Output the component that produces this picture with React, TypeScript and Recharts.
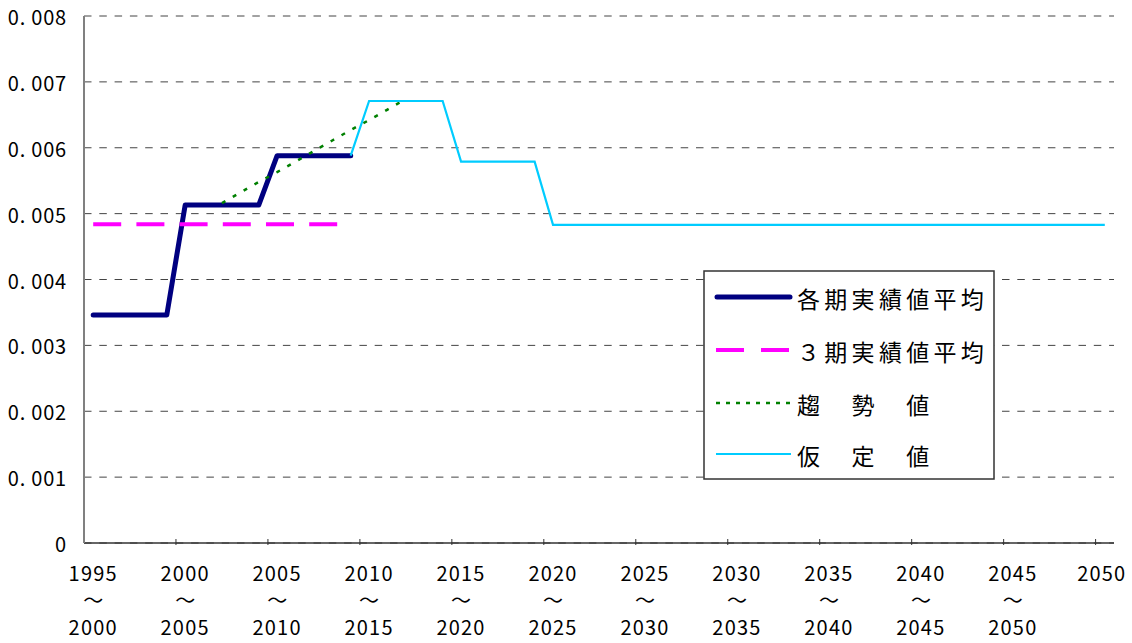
import React from "react";
import { LineChart, Line, XAxis, YAxis, CartesianGrid, Legend } from "recharts";

const years = [
  1995, 1996, 1997, 1998, 1999, 2000, 2001, 2002, 2003, 2004,
  2005, 2006, 2007, 2008, 2009, 2010, 2011, 2012, 2013, 2014,
  2015, 2016, 2017, 2018, 2019, 2020, 2021, 2022, 2023, 2024,
  2025, 2026, 2027, 2028, 2029, 2030, 2031, 2032, 2033, 2034,
  2035, 2036, 2037, 2038, 2039, 2040, 2041, 2042, 2043, 2044,
  2045, 2046, 2047, 2048, 2049, 2050,
];

// 各期実績値平均 (1995-2009)
const periodAvgStart = 1995;
const periodAvg = [
  0.00346, 0.00346, 0.00346, 0.00346, 0.00346,
  0.00513, 0.00513, 0.00513, 0.00513, 0.00513,
  0.00588, 0.00588, 0.00588, 0.00588, 0.00588,
];

// ３期実績値平均 (1995-2009)
const threePeriodAvgStart = 1995;
const threePeriodAvg = [
  0.00484, 0.00484, 0.00484, 0.00484, 0.00484,
  0.00484, 0.00484, 0.00484, 0.00484, 0.00484,
  0.00484, 0.00484, 0.00484, 0.00484, 0.00484,
];

// 趨勢値 (2002-2012)
const trendStart = 2002;
const trend = [
  0.00516, 0.00532, 0.00548, 0.00563, 0.00579, 0.00595,
  0.00611, 0.00627, 0.00642, 0.00658, 0.00674,
];

// 仮定値 (2009-2050)
const assumedStart = 2009;
const assumed = [
  0.00588,
  0.00671, 0.00671, 0.00671, 0.00671, 0.00671,
  0.00579, 0.00579, 0.00579, 0.00579, 0.00579,
  0.00483, 0.00483, 0.00483, 0.00483, 0.00483,
  0.00483, 0.00483, 0.00483, 0.00483, 0.00483,
  0.00483, 0.00483, 0.00483, 0.00483, 0.00483,
  0.00483, 0.00483, 0.00483, 0.00483, 0.00483,
  0.00483, 0.00483, 0.00483, 0.00483, 0.00483,
  0.00483, 0.00483, 0.00483, 0.00483, 0.00483,
  0.00483,
];

const xTickYears = [1995, 2000, 2005, 2010, 2015, 2020, 2025, 2030, 2035, 2040, 2045, 2050];
const xTickLabels = [
  "1995～2000", "2000～2005", "2005～2010", "2010～2015", "2015～2020", "2020～2025",
  "2025～2030", "2030～2035", "2035～2040", "2040～2045", "2045～2050", "2050",
];

const yTicks = [0, 0.001, 0.002, 0.003, 0.004, 0.005, 0.006, 0.007, 0.008];
const yTickLabels = ["0", "0. 001", "0. 002", "0. 003", "0. 004", "0. 005", "0. 006", "0. 007", "0. 008"];

const seriesNames = ["各期実績値平均", "３期実績値平均", "趨　勢　値", "仮　定　値"];

const pick = (arr: number[], start: number, year: number) => {
  const i = year - start;
  return i >= 0 && i < arr.length ? arr[i] : null;
};

const data = years.map((year) => ({
  year,
  periodAvg: pick(periodAvg, periodAvgStart, year),
  threePeriodAvg: pick(threePeriodAvg, threePeriodAvgStart, year),
  trend: pick(trend, trendStart, year),
  assumed: pick(assumed, assumedStart, year),
}));

const FONT = "'Noto Sans CJK JP', 'Noto Sans', sans-serif";

const W = 1132;
const H = 643;
const MARGIN = { top: 16, right: 18, left: 0, bottom: 0 };
const Y_AXIS_W = 84;
const X_AXIS_H = 100;
const PLOT_W = W - MARGIN.left - MARGIN.right - Y_AXIS_W;
const HALF_BAND = PLOT_W / years.length / 2;

const XTick = (props: any) => {
  const { x, y, payload, index } = props;
  const k = xTickYears.indexOf(payload.value);
  const label = k >= 0 ? xTickLabels[k] : String(payload.value);
  const parts = label.split("～");
  const isLast = parts.length === 1;
  const tx = isLast ? x - 3 : x;
  return (
    <g>
      {index > 0 && (
        <line x1={x - HALF_BAND} x2={x - HALF_BAND} y1={y - 6} y2={y} stroke="#333" strokeWidth={1} />
      )}
      <text x={tx} y={y + 27} textAnchor="middle" dominantBaseline="central" fontSize={20}
        fontFamily={FONT} fill="#000" letterSpacing={1.2}>{parts[0]}</text>
      {parts.length > 1 && (
        <>
          <text x={x} y={y + 54} textAnchor="middle" dominantBaseline="central" fontSize={20}
            fontFamily={FONT} fill="#000">～</text>
          <text x={x} y={y + 81} textAnchor="middle" dominantBaseline="central" fontSize={20}
            fontFamily={FONT} fill="#000" letterSpacing={1.2}>{parts[1]}</text>
        </>
      )}
    </g>
  );
};

const YTick = (props: any) => {
  const { y, payload } = props;
  const k = yTicks.findIndex((t) => Math.abs(t - payload.value) < 1e-9);
  const label = k >= 0 ? yTickLabels[k] : String(payload.value);
  return (
    <text x={67} y={y + 0.5} textAnchor="end" dominantBaseline="central" fontSize={20}
      fontFamily={FONT} fill="#000" letterSpacing={0.8}>{label}</text>
  );
};

const legendStyles = [
  { color: "#000080", width: 5, dash: undefined as string | undefined, cap: "round" as const },
  { color: "#FF00FF", width: 4, dash: "28 17", cap: "butt" as const },
  { color: "#008000", width: 2.5, dash: "4 6", cap: "butt" as const },
  { color: "#00CCFF", width: 2.2, dash: undefined as string | undefined, cap: "butt" as const },
];
const legendRowY = [27, 80, 133, 184];

const LegendBox = () => (
  <svg width={292} height={210} style={{ display: "block" }}>
    <rect x={1} y={1} width={290} height={208} fill="#fff" stroke="#333" strokeWidth={1.5} />
    {seriesNames.map((name, i) => (
      <g key={name}>
        <line x1={i === 0 ? 14 : 13} x2={i === 0 ? 87 : 88} y1={legendRowY[i]} y2={legendRowY[i]}
          stroke={legendStyles[i].color} strokeWidth={legendStyles[i].width}
          strokeDasharray={legendStyles[i].dash} strokeLinecap={legendStyles[i].cap} />
        <text x={94} y={legendRowY[i] + 1} dominantBaseline="central" fontSize={23}
          fontFamily={FONT} fill="#000" letterSpacing={4.3}>{name}</text>
      </g>
    ))}
  </svg>
);

export default function App() {
  return (
    <div style={{ position: "absolute", left: 0, top: 0, width: W, height: H, background: "#fff", fontFamily: FONT }}>
      <LineChart width={W} height={H} data={data} margin={MARGIN}>
        <CartesianGrid horizontal vertical={false} stroke="#444" strokeDasharray="7.5 7.8" strokeWidth={1} />
        <XAxis dataKey="year" type="category" interval={4} tickLine={false} tickSize={0} height={X_AXIS_H}
          padding={{ left: HALF_BAND, right: HALF_BAND }}
          axisLine={{ stroke: "#333", strokeWidth: 1.5 }} tick={(p: any) => <XTick {...p} />} />
        <YAxis type="number" domain={[0, 0.008]} ticks={yTicks} width={Y_AXIS_W} tickLine={false} tickSize={0}
          axisLine={{ stroke: "#808080", strokeWidth: 2 }} tick={(p: any) => <YTick {...p} />} interval={0} />
        <Legend layout="horizontal" verticalAlign="middle" align="center"
          wrapperStyle={{ position: "absolute", left: 703, top: 270, width: 292, height: 210 }}
          content={() => <LegendBox />} />
        <Line type="linear" dataKey="periodAvg" name={seriesNames[0]} stroke="#000080" strokeWidth={5}
          strokeLinecap="round" strokeLinejoin="round" dot={false} activeDot={false} isAnimationActive={false} />
        <Line type="linear" dataKey="threePeriodAvg" name={seriesNames[1]} stroke="#FF00FF" strokeWidth={4}
          strokeDasharray="28 15.2" dot={false} activeDot={false} isAnimationActive={false} />
        <Line type="linear" dataKey="trend" name={seriesNames[2]} stroke="#008000" strokeWidth={2.5}
          strokeDasharray="4 8.5" dot={false} activeDot={false} isAnimationActive={false} />
        <Line type="linear" dataKey="assumed" name={seriesNames[3]} stroke="#00CCFF" strokeWidth={2.2}
          dot={false} activeDot={false} isAnimationActive={false} />
      </LineChart>
    </div>
  );
}
